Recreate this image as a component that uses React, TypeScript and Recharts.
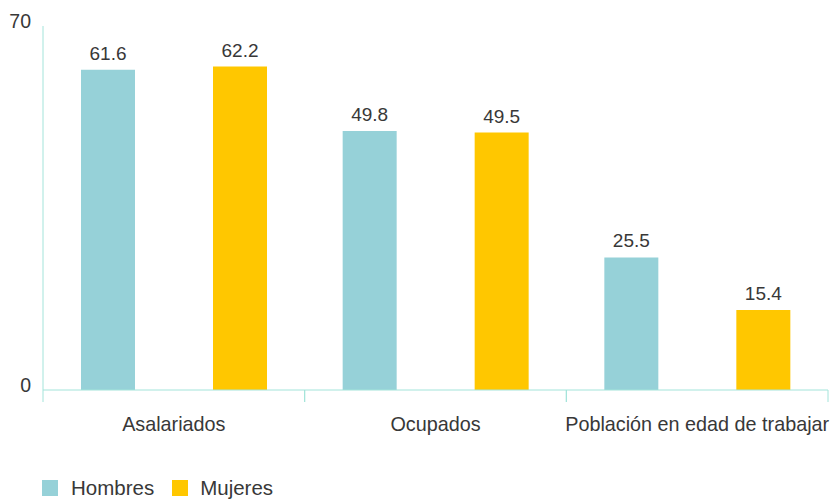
import React from 'react';
import { BarChart, Bar, XAxis, YAxis, Legend, LabelList } from 'recharts';

const categories = ['Asalariados', 'Ocupados', 'Población en edad de trabajar'];
const hombres = [61.6, 49.8, 25.5];
const mujeres = [62.2, 49.5, 15.4];
const yTicks = [0, 70];

const data = categories.map((c, i) => ({ name: c, Hombres: hombres[i], Mujeres: mujeres[i] }));

const FONT = '"Liberation Sans", Arial, sans-serif';
const AXIS = '#a3e4da';
const TEAL = '#96d1d8';
const YELLOW = '#ffc700';
const TEXT = '#383838';

const XTick = (props: any) => {
  const { x, y, payload } = props;
  const half = payload?.offset ?? 131;
  return (
    <g>
      <line x1={x - half} x2={x - half} y1={y - 12} y2={y} stroke={AXIS} strokeWidth={1} />
      <line x1={x + half} x2={x + half} y1={y - 12} y2={y} stroke={AXIS} strokeWidth={1} />
      <text x={x} y={y + 29} textAnchor="middle" fill={TEXT} fontSize={19.8} fontFamily={FONT}>
        {payload.value}
      </text>
    </g>
  );
};

const YTick = (props: any) => {
  const { x, y, payload } = props;
  return (
    <text x={x - 4} y={y + 2} textAnchor="end" fill={TEXT} fontSize={19.5} fontFamily={FONT}>
      {payload.value}
    </text>
  );
};

const LegendContent = () => (
  <div style={{ display: 'flex', alignItems: 'center', height: 22, paddingLeft: 42, fontFamily: FONT, fontSize: 20.5, color: TEXT }}>
    <span style={{ display: 'inline-block', width: 16, height: 16, background: TEAL, marginRight: 13 }} />
    <span style={{ marginRight: 18 }}>Hombres</span>
    <span style={{ display: 'inline-block', width: 16, height: 16, background: YELLOW, marginRight: 12 }} />
    <span>Mujeres</span>
  </div>
);

export default function App() {
  return (
    <div style={{ position: 'absolute', left: 0, top: 0, background: '#fff' }}>
      <BarChart
        width={838}
        height={499}
        data={data}
        margin={{ top: 26, right: 10, left: 0, bottom: 0 }}
        barSize={54}
        barGap={78}
      >
        <XAxis
          dataKey="name"
          axisLine={{ stroke: AXIS }}
          tickLine={false}
          tickSize={12}
          tickMargin={0}
          height={87}
          tick={<XTick />}
          interval={0}
        />
        <YAxis
          domain={[0, 70]}
          ticks={yTicks}
          width={43}
          axisLine={{ stroke: AXIS }}
          tickLine={false}
          tick={<YTick />}
          tickMargin={0}
          tickSize={8}
        />
        <Legend verticalAlign="bottom" align="left" content={<LegendContent />} wrapperStyle={{ left: 0, width: 838 }} />
        <Bar dataKey="Hombres" fill={TEAL} isAnimationActive={false}>
          <LabelList dataKey="Hombres" position="top" offset={10} fill={TEXT} fontSize={19} fontFamily={FONT} />
        </Bar>
        <Bar dataKey="Mujeres" fill={YELLOW} isAnimationActive={false}>
          <LabelList dataKey="Mujeres" position="top" offset={10} fill={TEXT} fontSize={19} fontFamily={FONT} />
        </Bar>
      </BarChart>
    </div>
  );
}
